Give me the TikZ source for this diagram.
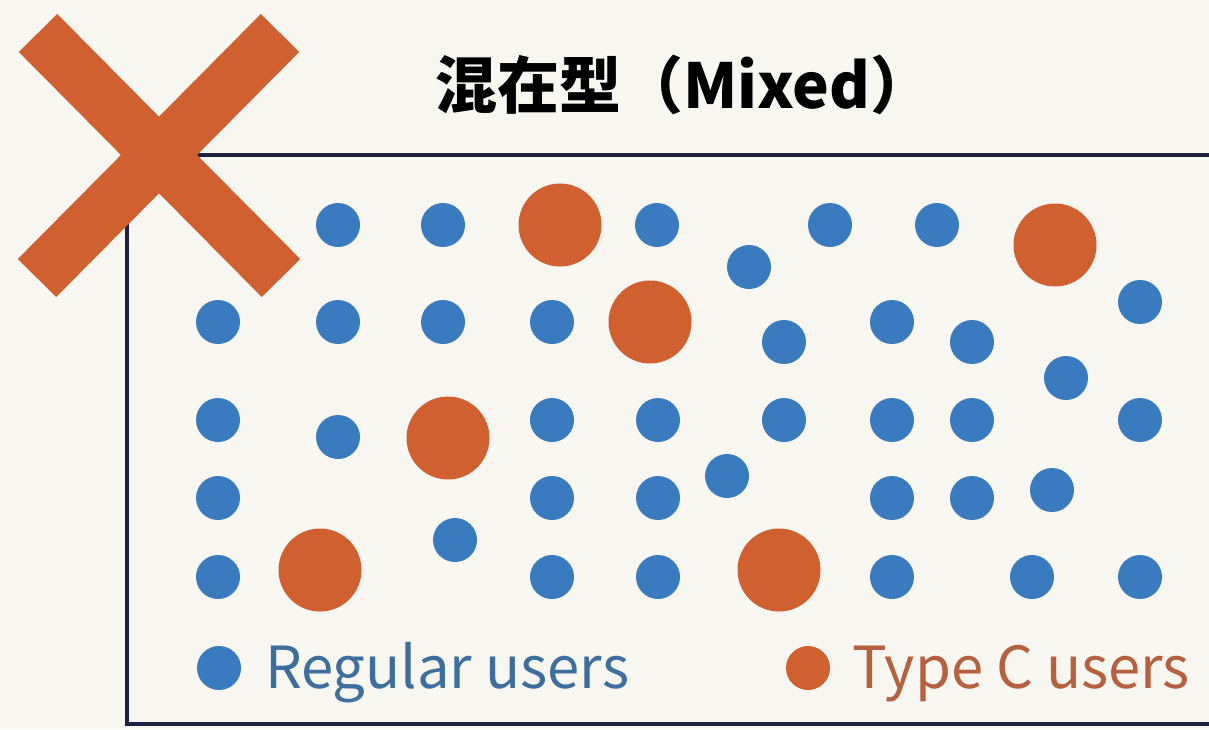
\documentclass[tikz,border=0pt]{standalone}
\usepackage{fontspec}
\setmainfont{Noto Sans CJK JP}
\definecolor{bgc}{HTML}{F7F6F1}
\definecolor{frame}{HTML}{1E2240}
\definecolor{bluedot}{HTML}{3A7BBF}
\definecolor{orangedot}{HTML}{D0602F}
\definecolor{bluetext}{HTML}{3E6E9D}
\definecolor{orangetext}{HTML}{B5603F}
\begin{document}
\begin{tikzpicture}[x=1pt,y=-1pt,
  bdot/.style={circle,fill=bluedot,draw=none,inner sep=0pt,minimum size=44pt},
  odot/.style={circle,fill=orangedot,draw=none,inner sep=0pt,minimum size=83pt},
  framel/.style={draw=frame,line width=3.2pt},
  cross/.style={draw=orangedot,line width=54pt,line cap=butt},
  legend/.style={anchor=base west,inner sep=0pt,font=\fontsize{58}{58}\selectfont}]
\fill[bgc] (0,0) rectangle (1209,729);
\useasboundingbox (0,0) rectangle (1209,729);
% frame
\coordinate (ftl) at (127,155);
\coordinate (ftr) at (1215,155);
\coordinate (fbl) at (127,724);
\coordinate (fbr) at (1215,724);
\draw[framel] (ftr) -- (ftl) -- (fbl) -- (fbr);
% title
\node[anchor=base,inner sep=0pt,font=\fontsize{62}{62}\selectfont\bfseries] (title) at (684,108) {混在型（Mixed）};
% blue dots
\node[bdot] (b1) at (338,225) {};
\node[bdot] (b2) at (443,225) {};
\node[bdot] (b3) at (657,225) {};
\node[bdot] (b4) at (749,267) {};
\node[bdot] (b5) at (830,225) {};
\node[bdot] (b6) at (937,225) {};
\node[bdot] (b7) at (218,322) {};
\node[bdot] (b8) at (338,322) {};
\node[bdot] (b9) at (443,322) {};
\node[bdot] (b10) at (552,322) {};
\node[bdot] (b11) at (784,342) {};
\node[bdot] (b12) at (892,322) {};
\node[bdot] (b13) at (972,342) {};
\node[bdot] (b14) at (1140,302) {};
\node[bdot] (b15) at (1066,378) {};
\node[bdot] (b16) at (218,420) {};
\node[bdot] (b17) at (338,437) {};
\node[bdot] (b18) at (552,420) {};
\node[bdot] (b19) at (658,420) {};
\node[bdot] (b20) at (784,420) {};
\node[bdot] (b21) at (892,420) {};
\node[bdot] (b22) at (972,420) {};
\node[bdot] (b23) at (1140,420) {};
\node[bdot] (b24) at (218,498) {};
\node[bdot] (b25) at (552,498) {};
\node[bdot] (b26) at (658,498) {};
\node[bdot] (b27) at (727,476) {};
\node[bdot] (b28) at (892,498) {};
\node[bdot] (b29) at (972,498) {};
\node[bdot] (b30) at (1052,490) {};
\node[bdot] (b31) at (218,577) {};
\node[bdot] (b32) at (455,540) {};
\node[bdot] (b33) at (552,577) {};
\node[bdot] (b34) at (658,577) {};
\node[bdot] (b35) at (892,577) {};
\node[bdot] (b36) at (1032,577) {};
\node[bdot] (b37) at (1140,577) {};
% orange dots
\node[odot] (o1) at (560,225) {};
\node[odot] (o2) at (650,322) {};
\node[odot] (o3) at (448,438) {};
\node[odot] (o4) at (1055,245) {};
\node[odot] (o5) at (320,570) {};
\node[odot] (o6) at (779,570) {};
% legend
\node[bdot] (lb) at (219,668) {};
\node[legend,text=bluetext] (lbt) at (265,688) {Regular users};
\node[bdot,fill=orangedot] (lo) at (808,668) {};
\node[legend,text=orangetext] (lot) at (852,688) {Type C users};
% cross
\coordinate (x1a) at (38,33);
\coordinate (x1b) at (281,278);
\coordinate (x2a) at (280,33);
\coordinate (x2b) at (37,278);
\draw[cross] (x1a) -- (x1b);
\draw[cross] (x2a) -- (x2b);
\end{tikzpicture}
\end{document}
